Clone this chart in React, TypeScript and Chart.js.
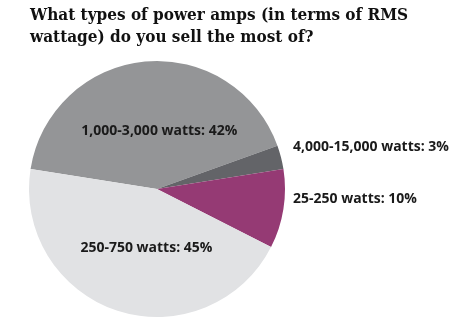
import React, { useEffect, useRef } from "react";
import { Chart, registerables } from "chart.js";

Chart.register(...registerables);

const titleLines = ["What types of power amps (in terms of RMS", "wattage) do you sell the most of?"];
const categories = ["1,000-3,000 watts", "4,000-15,000 watts", "25-250 watts", "250-750 watts"];
const values = [42, 3, 10, 45];
const colors = ["#949597", "#636468", "#953a74", "#e1e2e4"];
const outside = [false, true, true, false];

const labelPlugin = {
  id: "sliceLabels",
  afterDraw(chart: any) {
    const ctx = chart.ctx;
    const meta = chart.getDatasetMeta(0);
    ctx.save();
    ctx.fillStyle = "#1a1a1a";
    ctx.font = "bold 14px 'Open Sans'";
    ctx.textBaseline = "middle";
    meta.data.forEach((arc: any, i: number) => {
      const p = arc.getProps(["x", "y", "startAngle", "endAngle", "outerRadius"], true);
      const mid = (p.startAngle + p.endAngle) / 2;
      const text = `${categories[i]}: ${values[i]}%`;
      if (outside[i]) {
        ctx.textAlign = "left";
        const y = p.y + Math.sin(mid) * p.outerRadius - 10;
        ctx.fillText(text, p.x + p.outerRadius + 8, y);
      } else {
        ctx.textAlign = "center";
        const r = p.outerRadius * 0.47;
        ctx.fillText(text, p.x + Math.cos(mid) * r + 8, p.y + Math.sin(mid) * r + 2);
      }
    });
    ctx.fillStyle = "#111";
    ctx.textAlign = "left";
    ctx.textBaseline = "alphabetic";
    ctx.font = "bold 17px 'DejaVu Serif Condensed'";
    titleLines.forEach((t, i) => ctx.fillText(t, 30, 20 + i * 22));
    ctx.restore();
  },
};

export default function App() {
  const ref = useRef<HTMLCanvasElement>(null);
  useEffect(() => {
    document.body.style.margin = "0";
    const chart = new Chart(ref.current!, {
      type: "pie",
      data: {
        labels: categories,
        datasets: [{ data: values, backgroundColor: colors, borderWidth: 0 }],
      },
      options: {
        animation: false,
        responsive: false,
        rotation: -81,
        layout: { padding: { top: 61, left: 29, right: 175, bottom: 14 } },
        plugins: { legend: { display: false }, tooltip: { enabled: false }, title: { display: false } },
      },
      plugins: [labelPlugin],
    });
    return () => chart.destroy();
  }, []);
  return (
    <div style={{ width: 460, height: 331, background: "#fff" }}>
      <canvas ref={ref} width={460} height={331} style={{ width: 460, height: 331, display: "block" }} />
    </div>
  );
}
